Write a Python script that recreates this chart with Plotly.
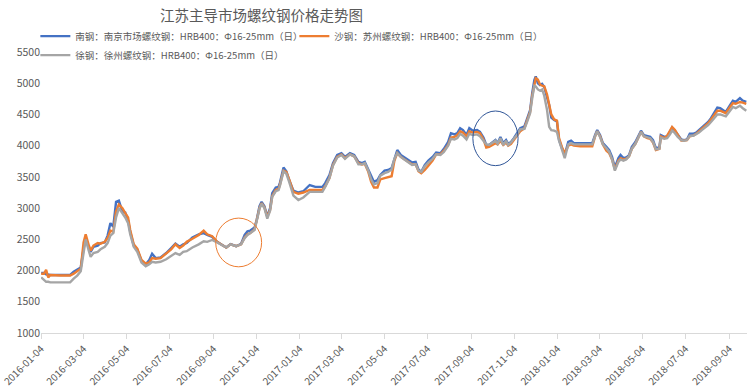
import plotly.graph_objects as go

dates = [
    "2016-01-04", "2016-01-08", "2016-01-11", "2016-01-14", "2016-01-17", "2016-01-24", "2016-01-31",
    "2016-02-07", "2016-02-14", "2016-02-19", "2016-02-24", "2016-02-29", "2016-03-04", "2016-03-07",
    "2016-03-11", "2016-03-14", "2016-03-18", "2016-03-24", "2016-03-28", "2016-04-03", "2016-04-07",
    "2016-04-11", "2016-04-15", "2016-04-19", "2016-04-23", "2016-04-28", "2016-05-02", "2016-05-06",
    "2016-05-09", "2016-05-14", "2016-05-19", "2016-05-25", "2016-05-31", "2016-06-05", "2016-06-09",
    "2016-06-14", "2016-06-21", "2016-06-29", "2016-07-06", "2016-07-12", "2016-07-18", "2016-07-23",
    "2016-07-28", "2016-08-05", "2016-08-14", "2016-08-21", "2016-08-26", "2016-09-02", "2016-09-09",
    "2016-09-16", "2016-09-22", "2016-09-28", "2016-10-06", "2016-10-13", "2016-10-18", "2016-10-22",
    "2016-10-26", "2016-11-01", "2016-11-04", "2016-11-08", "2016-11-11", "2016-11-15", "2016-11-19",
    "2016-11-23", "2016-11-26", "2016-12-01", "2016-12-05", "2016-12-07", "2016-12-12", "2016-12-16",
    "2016-12-20", "2016-12-26", "2017-01-02", "2017-01-09", "2017-01-18", "2017-01-26", "2017-02-05",
    "2017-02-09", "2017-02-15", "2017-02-20", "2017-02-26", "2017-03-04", "2017-03-09", "2017-03-16",
    "2017-03-22", "2017-03-28", "2017-04-02", "2017-04-06", "2017-04-11", "2017-04-15", "2017-04-19",
    "2017-04-24", "2017-04-28", "2017-05-04", "2017-05-09", "2017-05-14", "2017-05-18", "2017-05-22",
    "2017-05-27", "2017-06-01", "2017-06-07", "2017-06-12", "2017-06-17", "2017-06-21", "2017-06-25",
    "2017-06-30", "2017-07-05", "2017-07-11", "2017-07-16", "2017-07-22", "2017-07-27", "2017-08-02",
    "2017-08-06", "2017-08-11", "2017-08-15", "2017-08-19", "2017-08-23", "2017-08-28", "2017-09-01",
    "2017-09-06", "2017-09-12", "2017-09-16", "2017-09-21", "2017-09-25", "2017-09-29", "2017-10-03",
    "2017-10-08", "2017-10-11", "2017-10-15", "2017-10-19", "2017-10-23", "2017-10-26", "2017-10-30",
    "2017-11-03", "2017-11-08", "2017-11-12", "2017-11-18", "2017-11-22", "2017-11-26", "2017-11-29",
    "2017-12-02", "2017-12-04", "2017-12-07", "2017-12-10", "2017-12-13", "2017-12-16", "2017-12-20",
    "2017-12-23", "2017-12-26", "2017-12-30", "2018-01-03", "2018-01-06", "2018-01-10", "2018-01-14",
    "2018-01-19", "2018-01-23", "2018-01-27", "2018-02-05", "2018-02-15", "2018-02-22", "2018-02-26",
    "2018-03-01", "2018-03-05", "2018-03-09", "2018-03-14", "2018-03-18", "2018-03-22", "2018-03-26",
    "2018-03-31", "2018-04-03", "2018-04-07", "2018-04-11", "2018-04-15", "2018-04-19", "2018-04-24",
    "2018-04-28", "2018-05-02", "2018-05-06", "2018-05-11", "2018-05-15", "2018-05-19", "2018-05-23",
    "2018-05-28", "2018-05-30", "2018-06-04", "2018-06-08", "2018-06-12", "2018-06-15", "2018-06-19",
    "2018-06-23", "2018-06-28", "2018-07-02", "2018-07-06", "2018-07-10", "2018-07-15", "2018-07-19",
    "2018-07-23", "2018-07-27", "2018-08-01", "2018-08-05", "2018-08-09", "2018-08-13", "2018-08-18",
    "2018-08-22", "2018-08-26", "2018-08-30", "2018-09-05", "2018-09-09", "2018-09-13", "2018-09-19",
    "2018-09-23", "2018-09-28",
]

nangang = [
    1960, 1960, 1940, 1930, 1930, 1930, 1930, 1930, 1930, 1980, 2010, 2050, 2350, 2500,
    2400, 2300, 2380, 2400, 2440, 2450, 2560, 2760, 2700, 3100, 3120, 2940, 2930, 2800,
    2620, 2400, 2340, 2150, 2100, 2170, 2270, 2200, 2210, 2280, 2360, 2430, 2380, 2420,
    2440, 2530, 2580, 2600, 2570, 2540, 2460, 2410, 2370, 2425, 2390, 2430, 2570, 2630,
    2640, 2690, 2810, 3030, 3100, 3030, 2870, 3000, 3240, 3330, 3340, 3410, 3650, 3590,
    3450, 3280, 3250, 3270, 3370, 3340, 3340, 3400, 3530, 3720, 3850, 3880, 3820, 3880,
    3850, 3740, 3720, 3740, 3610, 3500, 3420, 3450, 3530, 3600, 3610, 3640, 3800, 3930,
    3850, 3810, 3770, 3730, 3740, 3620, 3580, 3690, 3760, 3820, 3890, 3880, 3950, 4060,
    4200, 4180, 4200, 4280, 4250, 4170, 4280, 4240, 4250, 4220, 4130, 4010, 4010, 4050,
    4090, 4040, 4140, 4040, 4090, 4030, 4060, 4120, 4200, 4280, 4310, 4440, 4570, 4840,
    5050, 5110, 5000, 4970, 4990, 4940, 4780, 4650, 4450, 4410, 4390, 4090, 3960, 3850,
    4060, 4080, 4040, 4040, 4050, 4040, 4170, 4250, 4170, 4040, 3980, 3930, 3820, 3650,
    3800, 3850, 3800, 3810, 3850, 3980, 4060, 4150, 4240, 4170, 4150, 4140, 4090, 3960,
    3970, 4170, 4140, 4150, 4220, 4290, 4240, 4170, 4100, 4090, 4100, 4190, 4190, 4210,
    4250, 4300, 4340, 4380, 4440, 4520, 4610, 4600, 4570, 4540, 4650, 4720, 4700, 4760,
    4720, 4700,
]

shagang = [
    1950, 1950, 2010, 1890, 1930, 1920, 1920, 1920, 1920, 1950, 1990, 2030, 2450, 2580,
    2420, 2320, 2400, 2440, 2430, 2460, 2520, 2640, 2620, 2950, 3060, 3000, 2920, 2850,
    2650, 2420, 2350, 2170, 2110, 2130, 2200, 2190, 2200, 2270, 2340, 2420, 2360, 2400,
    2460, 2510, 2570, 2640, 2580, 2550, 2460, 2410, 2370, 2420, 2390, 2420, 2530, 2580,
    2600, 2660, 2790, 3000, 3080, 3010, 2860, 2970, 3190, 3290, 3310, 3380, 3600, 3580,
    3460, 3260, 3230, 3250, 3290, 3290, 3290, 3350, 3480, 3690, 3820, 3860, 3800, 3860,
    3830, 3720, 3700, 3710, 3580, 3420, 3330, 3330, 3460, 3480, 3490, 3510, 3760, 3880,
    3820, 3780, 3740, 3700, 3700, 3590, 3560, 3610, 3680, 3760, 3860, 3860, 3920, 4010,
    4130, 4140, 4170, 4230, 4210, 4150, 4230, 4210, 4220, 4200, 4100, 3970, 3980, 4010,
    4040, 4020, 4080, 4010, 4050, 4000, 4030, 4090, 4160, 4230, 4280, 4400, 4540, 4800,
    5000, 5080, 5060, 4980, 4960, 4950, 4820, 4680, 4500, 4420, 4400, 4120, 3980, 3880,
    4000, 4020, 4000, 3990, 3990, 3990, 4150, 4230, 4150, 4020, 3920, 3880, 3780, 3620,
    3760, 3800, 3780, 3790, 3830, 3950, 4030, 4130, 4220, 4150, 4120, 4110, 4050, 3930,
    3950, 4150, 4120, 4160, 4240, 4300, 4250, 4170, 4080, 4080, 4090, 4150, 4160, 4190,
    4230, 4280, 4320, 4360, 4420, 4480, 4560, 4560, 4540, 4520, 4620, 4680, 4670, 4700,
    4690, 4670,
]

xugang = [
    1890, 1850, 1820, 1820, 1810, 1810, 1810, 1810, 1810, 1870, 1920, 1990, 2300, 2500,
    2330, 2220, 2280, 2300, 2340, 2380, 2440, 2560, 2600, 2850, 3000, 2920, 2850, 2760,
    2580, 2380, 2300, 2130, 2070, 2100, 2140, 2130, 2140, 2180, 2230, 2280, 2250, 2300,
    2310, 2370, 2420, 2470, 2460, 2490, 2450, 2410, 2370, 2420, 2390, 2420, 2520, 2570,
    2600, 2650, 2790, 2990, 3070, 3000, 2830, 2960, 3180, 3270, 3290, 3360, 3590, 3550,
    3420, 3200, 3130, 3170, 3260, 3260, 3260, 3340, 3480, 3680, 3810, 3850, 3790, 3860,
    3830, 3700, 3700, 3720, 3600, 3460, 3380, 3400, 3520, 3560, 3580, 3620, 3790, 3880,
    3820, 3780, 3730, 3690, 3700, 3600, 3580, 3670, 3730, 3790, 3860, 3850, 3900, 4000,
    4110, 4100, 4120, 4190, 4160, 4100, 4190, 4170, 4180, 4150, 4080, 4020, 4010, 4040,
    4080, 4030, 4120, 4010, 4080, 4010, 4050, 4110, 4180, 4260, 4270, 4390, 4520, 4760,
    4960, 4950, 4900, 4880, 4900, 4800, 4570, 4300, 4250, 4240, 4220, 4080, 3920, 3800,
    4020, 4040, 4020, 4020, 4030, 4020, 4150, 4230, 4140, 4020, 3960, 3900, 3780, 3600,
    3740, 3780, 3760, 3780, 3830, 3950, 4030, 4120, 4220, 4150, 4130, 4120, 4060, 3940,
    3950, 4130, 4110, 4120, 4180, 4240, 4200, 4140, 4090, 4080, 4090, 4160, 4160, 4180,
    4210, 4250, 4290, 4330, 4380, 4440, 4500, 4500, 4480, 4470, 4560, 4620, 4600, 4640,
    4600, 4560,
]

series_names = [
    "南钢：南京市场螺纹钢：HRB400：Φ16-25mm（日）",
    "沙钢：苏州螺纹钢：HRB400：Φ16-25mm（日）",
    "徐钢：徐州螺纹钢：HRB400：Φ16-25mm（日）",
]
series_values = [nangang, shagang, xugang]
series_colors = ["#4472C4", "#ED7D31", "#A5A5A5"]

title_text = "江苏主导市场螺纹钢价格走势图"

# highlighted regions (x range dates, y range values)
highlights = [
    {"x0": "2016-09-07", "x1": "2016-11-11", "y0": 2060, "y1": 2840, "color": "#ED7D31"},
    {"x0": "2017-09-06", "x1": "2017-11-09", "y0": 3680, "y1": 4555, "color": "#2F5597"},
]

FONT = "Noto Sans CJK SC, sans-serif"
GREY = "#595959"

fig = go.Figure()
for name, vals, col in zip(series_names, series_values, series_colors):
    fig.add_trace(go.Scatter(
        x=dates, y=vals, mode="lines", name=name,
        line=dict(color=col, width=2.4),
    ))

for h in highlights:
    fig.add_shape(type="circle", xref="x", yref="y",
                  x0=h["x0"], x1=h["x1"], y0=h["y0"], y1=h["y1"],
                  line=dict(color=h["color"], width=1))

fig.update_layout(
    width=750, height=391,
    margin=dict(l=41, r=3, t=52, b=58),
    paper_bgcolor="white", plot_bgcolor="white",
    font=dict(family=FONT, color=GREY, size=10.5),
    showlegend=True,
    legend=dict(
        orientation="h", x=-0.008, xanchor="left", y=1.108, yanchor="top",
        font=dict(family=FONT, size=9.5, color=GREY),
        entrywidth=214, entrywidthmode="pixels",
        bgcolor="rgba(0,0,0,0)", tracegroupgap=0,
    ),
    annotations=[dict(
        text=title_text, xref="paper", yref="paper",
        x=0.313, y=1 + (52 - 14) / 281, xanchor="center", yanchor="middle",
        showarrow=False, font=dict(family=FONT, size=14.5, color=GREY),
    )],
)

fig.update_xaxes(
    type="date", range=["2016-01-03 18:00", "2018-09-29"],
    tick0="2016-01-04", dtick="M2", tickformat="%Y-%m-%d",
    tickangle=-45, ticks="outside", ticklen=5, tickcolor="#D9D9D9",
    showline=True, linecolor="#D9D9D9", linewidth=1,
    showgrid=False, zeroline=False, automargin=False,
    ticklabeloverflow="allow",
    tickfont=dict(family=FONT, size=10, color=GREY),
)
fig.update_yaxes(
    range=[1000, 5500], dtick=500, tick0=1000,
    showgrid=False, zeroline=False, showline=False, ticks="",
    automargin=False,
    tickfont=dict(family=FONT, size=10.5, color=GREY),
)

fig.write_html(
    "out.html",
    config={"displayModeBar": False},
    post_script="document.body.style.margin='0';document.body.style.padding='0';",
)
